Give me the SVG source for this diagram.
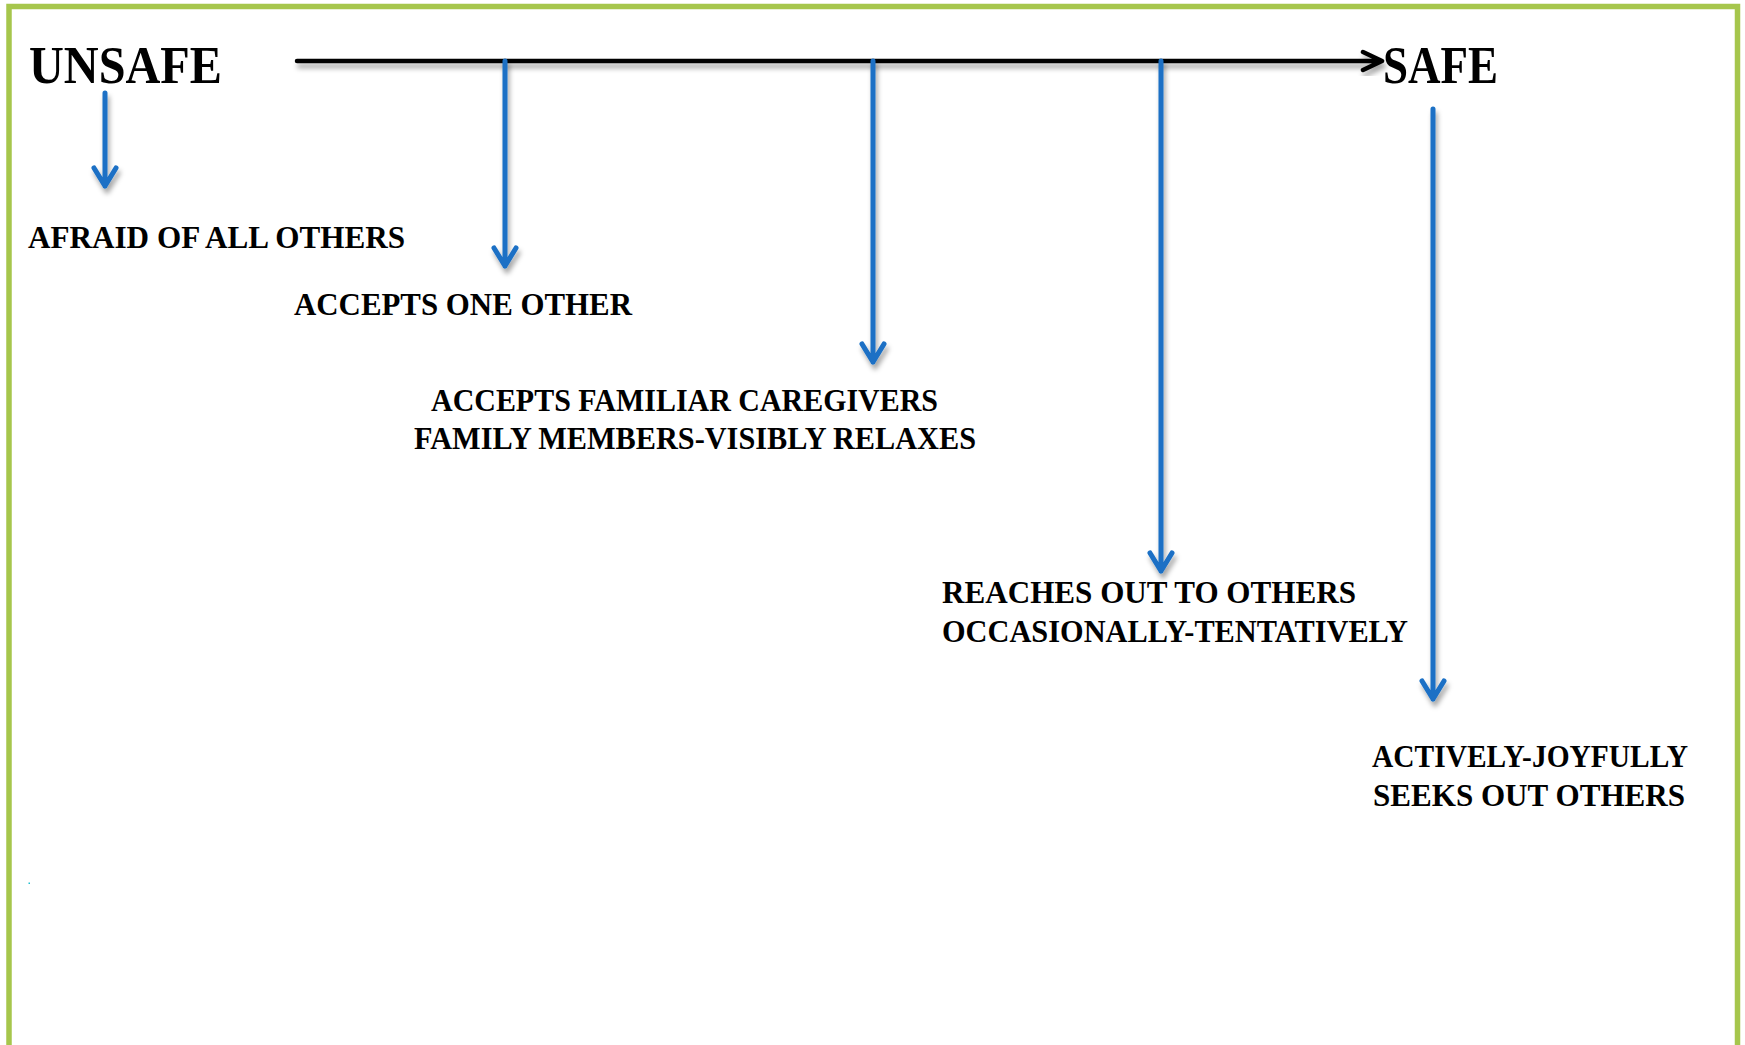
<svg xmlns="http://www.w3.org/2000/svg" width="1745" height="1045" viewBox="0 0 1745 1045">
<style>
.t{font-family:"Liberation Serif","Times New Roman",serif;font-weight:bold;fill:#000;font-size:31px}
.big{font-size:52px}
.blue{stroke:#1b6fc5;stroke-width:5;fill:none;stroke-linecap:round;stroke-linejoin:round}
.main{stroke:#000;stroke-width:4.5;fill:none;stroke-linecap:round;stroke-linejoin:round}
</style>
<defs>
<filter id="sh" x="-50%" y="-20%" width="200%" height="150%">
<feDropShadow dx="2" dy="5" stdDeviation="2.5" flood-color="#000" flood-opacity="0.35"/>
</filter>
</defs>
<rect x="0" y="0" width="1745" height="1045" fill="#fff"/>
<rect x="9" y="6.5" width="1728.5" height="1100" fill="none" stroke="#a6c64c" stroke-width="5.5"/>
<rect x="28.5" y="882.5" width="1.5" height="1.5" fill="#20c0d0"/>
<g id="connectors">
<g filter="url(#sh)">
<path class="main" d="M297 61 H1380 M1363 52 L1382 61 L1363 70"/>
</g>
<g filter="url(#sh)">
<path class="blue" d="M105 93 V186 M94 168 L105 186 L116 168"/>
<path class="blue" d="M505 61 V266 M494 248 L505 266 L516 248"/>
<path class="blue" d="M873 61 V362 M862 344 L873 362 L884 344"/>
<path class="blue" d="M1161 61 V571 M1150 553 L1161 571 L1172 553"/>
<path class="blue" d="M1433 109 V699 M1422 681 L1433 699 L1444 681"/>
</g>
</g>
<g id="node-unsafe"><text class="t big" x="29" y="83" textLength="193" lengthAdjust="spacingAndGlyphs">UNSAFE</text></g>
<g id="node-safe"><text class="t big" x="1383" y="83" textLength="115" lengthAdjust="spacingAndGlyphs">SAFE</text></g>
<g id="node-afraid"><text class="t" x="28" y="248" textLength="377" lengthAdjust="spacingAndGlyphs">AFRAID OF ALL OTHERS</text></g>
<g id="node-accepts-one"><text class="t" x="294" y="315" textLength="338" lengthAdjust="spacingAndGlyphs">ACCEPTS ONE OTHER</text></g>
<g id="node-familiar">
<text class="t" x="431" y="411" textLength="507" lengthAdjust="spacingAndGlyphs">ACCEPTS FAMILIAR CAREGIVERS</text>
<text class="t" x="414" y="449" textLength="562" lengthAdjust="spacingAndGlyphs">FAMILY MEMBERS-VISIBLY RELAXES</text>
</g>
<g id="node-reaches">
<text class="t" x="942" y="603" textLength="414" lengthAdjust="spacingAndGlyphs">REACHES OUT TO OTHERS</text>
<text class="t" x="942" y="642" textLength="466" lengthAdjust="spacingAndGlyphs">OCCASIONALLY-TENTATIVELY</text>
</g>
<g id="node-actively">
<text class="t" x="1372" y="767" textLength="316" lengthAdjust="spacingAndGlyphs">ACTIVELY-JOYFULLY</text>
<text class="t" x="1373" y="806" textLength="312" lengthAdjust="spacingAndGlyphs">SEEKS OUT OTHERS</text>
</g>
</svg>
